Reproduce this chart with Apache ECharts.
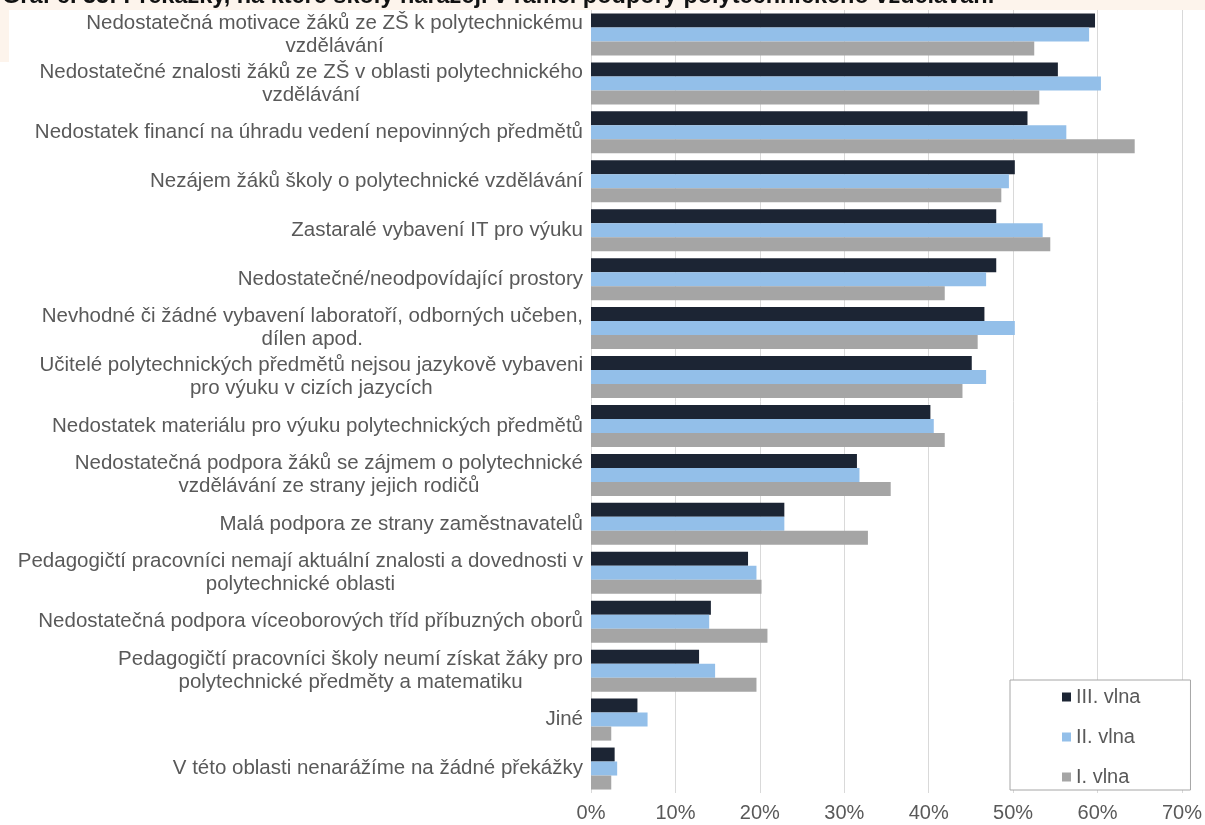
<!DOCTYPE html>
<html>
<head>
<meta charset="utf-8">
<script src="https://cdn.jsdelivr.net/npm/echarts@6/dist/echarts.min.js"></script>
<style>
html,body{margin:0;padding:0;background:#ffffff;}
#chart{width:1205px;height:825px;}
</style>
</head>
<body>
<div id="chart"></div>
<script>
const titleText = 'Graf č. 33: Překážky, na které školy narážejí v rámci podpory polytechnického vzdělávání';
const categories = [
  'Nedostatečná motivace žáků ze ZŠ k polytechnickému\nvzdělávání',
  'Nedostatečné znalosti žáků ze ZŠ v oblasti polytechnického\nvzdělávání',
  'Nedostatek financí na úhradu vedení nepovinných předmětů',
  'Nezájem žáků školy o polytechnické vzdělávání',
  'Zastaralé vybavení IT pro výuku',
  'Nedostatečné/neodpovídající prostory',
  'Nevhodné či žádné vybavení laboratoří, odborných učeben,\ndílen apod.',
  'Učitelé polytechnických předmětů nejsou jazykově vybaveni\npro výuku v cizích jazycích',
  'Nedostatek materiálu pro výuku polytechnických předmětů',
  'Nedostatečná podpora žáků se zájmem o polytechnické\nvzdělávání ze strany jejich rodičů',
  'Malá podpora ze strany zaměstnavatelů',
  'Pedagogičtí pracovníci nemají aktuální znalosti a dovednosti v\npolytechnické oblasti',
  'Nedostatečná podpora víceoborových tříd příbuzných oborů',
  'Pedagogičtí pracovníci školy neumí získat žáky pro\npolytechnické předměty a matematiku',
  'Jiné',
  'V této oblasti nenarážíme na žádné překážky'
];
const seriesNames = ['III. vlna', 'II. vlna', 'I. vlna'];
const wave3 = [59.7, 55.3, 51.7, 50.2, 48.0, 48.0, 46.6, 45.1, 40.2, 31.5, 22.9, 18.6, 14.2, 12.8, 5.5, 2.8];
const wave2 = [59.0, 60.4, 56.3, 49.5, 53.5, 46.8, 50.2, 46.8, 40.6, 31.8, 22.9, 19.6, 14.0, 14.7, 6.7, 3.1];
const wave1 = [52.5, 53.1, 64.4, 48.6, 54.4, 41.9, 45.8, 44.0, 41.9, 35.5, 32.8, 20.2, 20.9, 19.6, 2.4, 2.4];
const xTicks = [0, 10, 20, 30, 40, 50, 60, 70];

const colors = ['#1c2534', '#93bfe9', '#a5a5a5'];
const chart = echarts.init(document.getElementById('chart'), null, {renderer: 'canvas'});
const values = [wave3, wave2, wave1];
const option = {
  animation: false,
  backgroundColor: '#ffffff',
  textStyle: {fontFamily: 'Liberation Sans, Arial, sans-serif'},
  graphic: [
    {type: 'rect', left: 0, top: 0, shape: {width: 1205, height: 10}, style: {fill: '#fdf4ec'}, z: -1},
    {type: 'rect', left: 0, top: 0, shape: {width: 9, height: 62}, style: {fill: '#fdf4ec'}, z: -1},
    {type: 'text', x: 2, y: 9, style: {text: titleText, font: 'bold 23.5px "Liberation Sans"', fill: '#111111', verticalAlign: 'bottom'}, z: 10}
  ],
  grid: {left: 591, right: 22, top: 10, bottom: 32, containLabel: false},
  legend: {
    data: seriesNames,
    orient: 'vertical',
    left: 1010,
    top: 680,
    backgroundColor: '#ffffff',
    borderColor: '#a6a6a6',
    borderWidth: 1,
    padding: [7, 50, 3, 52],
    itemGap: 20,
    itemWidth: 9,
    itemHeight: 9,
    icon: 'rect',
    textStyle: {fontSize: 20, color: '#595959', fontFamily: 'Liberation Sans'}
  },
  xAxis: {
    type: 'value',
    min: xTicks[0],
    max: xTicks[xTicks.length - 1],
    interval: 10,
    axisLine: {show: false},
    axisTick: {show: false},
    splitLine: {show: true, lineStyle: {color: '#d9d9d9', width: 1}},
    axisLabel: {formatter: '{value}%', fontSize: 20, color: '#595959', margin: 10}
  },
  yAxis: {
    type: 'category',
    inverse: true,
    data: categories,
    axisLine: {show: false},
    axisTick: {show: false},
    axisLabel: {
      margin: 8,
      align: 'right',
      formatter: function (v) {
        return v.split('\n').map(function (l) { return '{c|' + l + '}'; }).join('\n');
      },
      rich: {c: {align: 'center', fontSize: 20.5, color: '#595959', lineHeight: 23, fontFamily: 'Liberation Sans'}}
    }
  },
  series: seriesNames.map(function (n, i) {
    return {
      name: n,
      type: 'bar',
      data: values[i],
      barWidth: 14,
      barGap: '0%',
      itemStyle: {color: colors[i]}
    };
  })
};
chart.setOption(option);
</script>
</body>
</html>
